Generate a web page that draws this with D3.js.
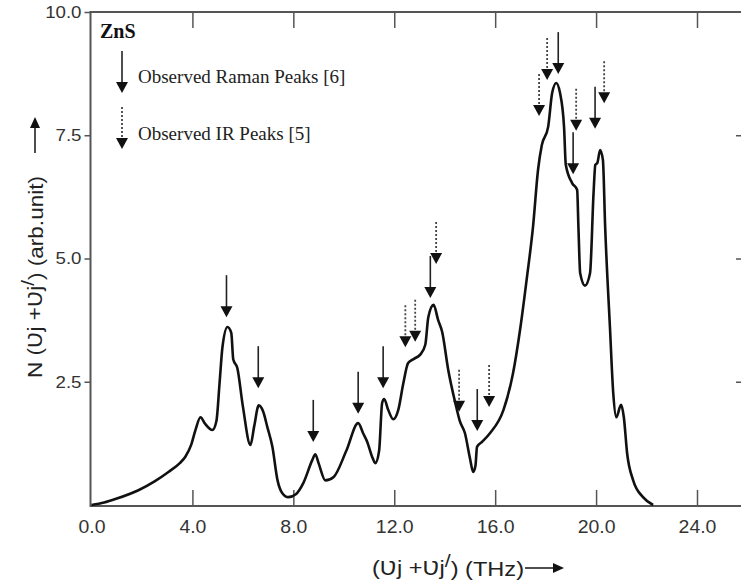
<!DOCTYPE html>
<html>
<head>
<meta charset="utf-8">
<script src="https://cdn.jsdelivr.net/npm/d3@7"></script>
<style>
  body { margin: 0; background: #fff; }
  svg { display: block; }
  .tick text { fill: #333; font-family: "Liberation Sans", Arial, sans-serif; }
</style>
</head>
<body>
<svg id="chart" width="741" height="588"></svg>
<script>
// phonon two-phonon density of states
const freq = [0, 0.5, 1.0, 1.86, 2.5, 3.05, 3.5, 3.72, 3.95, 4.12, 4.32, 4.5, 4.79, 4.95, 5.08, 5.19, 5.39, 5.54,
  5.62, 5.78, 6.0, 6.3, 6.45, 6.63, 6.8, 6.97, 7.17, 7.37, 7.55, 7.8, 8.1, 8.4, 8.75, 8.87, 9.0, 9.27, 9.6, 10.1,
  10.57, 10.77, 10.93, 11.13, 11.25, 11.4, 11.52, 11.6, 11.76, 11.96, 12.16, 12.36, 12.55, 12.8, 13.03, 13.23,
  13.35, 13.56, 13.74, 13.9, 14.14, 14.42, 14.6, 14.8, 15.0, 15.13, 15.22, 15.28, 15.48, 15.8, 16.33, 16.7, 17.0,
  17.26, 17.5, 17.7, 17.85, 18.1, 18.26, 18.42, 18.57, 18.73, 18.8, 19.05, 19.25, 19.3, 19.37, 19.56, 19.76, 19.9,
  19.97, 20.05, 20.16, 20.27, 20.36, 20.55, 20.68, 20.8, 20.99, 21.1, 21.23, 21.47, 21.86, 22.26];
const dos = [0, 0.05, 0.13, 0.3, 0.48, 0.67, 0.85, 0.98, 1.22, 1.52, 1.78, 1.65, 1.52, 1.7, 2.5, 3.2, 3.61, 3.49,
  2.95, 2.78, 2.0, 1.22, 1.6, 2.02, 1.9, 1.58, 1.18, 0.51, 0.25, 0.16, 0.22, 0.45, 0.91, 1.03, 0.85, 0.5, 0.57, 1.1,
  1.66, 1.45, 1.28, 0.97, 0.85, 1.1, 2.07, 2.15, 1.93, 1.74, 1.93, 2.47, 2.88, 2.97, 3.05, 3.25,
  3.81, 4.06, 3.75, 3.51, 2.74, 2.07, 1.7, 1.46, 0.95, 0.67, 0.8, 1.18, 1.28, 1.46, 1.93, 2.65, 3.6,
  4.62, 5.64, 6.8, 7.3, 7.67, 8.36, 8.56, 8.36, 7.67, 6.9, 6.53, 6.39, 5.64, 4.7, 4.45, 4.7, 6.33,
  6.9, 6.94, 7.2, 7.0, 5.64, 3.6, 2.27, 1.78, 2.03, 1.78, 1.05, 0.5, 0.16, 0];

// arrow tips (frequency, height)
const ramanX = [5.35, 6.61, 8.79, 10.57, 11.56, 13.43, 15.29, 18.5, 19.09, 19.96];
const ramanY = [3.81, 2.37, 1.28, 1.85, 2.37, 4.2, 1.5, 8.74, 6.71, 7.63];
const irX = [12.44, 12.83, 13.66, 14.57, 15.76, 17.74, 18.06, 19.21, 20.32];
const irY = [3.2, 3.31, 4.89, 1.89, 1.99, 7.89, 8.62, 7.59, 8.15];

const xTicks = [0, 4, 8, 12, 16, 20, 24];
const yTicks = [2.5, 5, 7.5, 10];
const legendItems = ["Observed Raman Peaks [6]", "Observed IR Peaks [5]"];

const svg = d3.select("#chart");
const plotLeft = 90.5, plotRight = 744, plotTop = 12, plotBottom = 506;

const x = d3.scaleLinear().domain([0, 24]).range([91.5, 697]);
const y = d3.scaleLinear().domain([0, 10]).range([505, 12]);

// frame
svg.append("rect")
  .attr("x", plotLeft).attr("y", plotTop)
  .attr("width", plotRight - plotLeft).attr("height", plotBottom - plotTop)
  .attr("fill", "none").attr("stroke", "#555").attr("stroke-width", 2);

// bottom axis, ticks inward
const xAxis = svg.append("g")
  .attr("transform", `translate(0,${plotBottom})`)
  .call(d3.axisBottom(x).tickValues(xTicks).tickFormat(d3.format(".1f"))
    .tickSizeInner(-16).tickSizeOuter(0).tickPadding(14));
xAxis.select(".domain").remove();
xAxis.selectAll(".tick line").attr("stroke", "#555").attr("stroke-width", 1.5);
xAxis.selectAll(".tick text").attr("font-size", 18).attr("transform", "scale(1.08,1)");
xAxis.selectAll(".tick").filter(d => d === 0).select("line").remove();

// top ticks
const xTop = svg.append("g")
  .attr("transform", `translate(0,${plotTop})`)
  .call(d3.axisTop(x).tickValues(xTicks.slice(1)).tickFormat("").tickSizeInner(-16).tickSizeOuter(0));
xTop.select(".domain").remove();
xTop.selectAll(".tick line").attr("stroke", "#555").attr("stroke-width", 1.5);

// left axis, ticks outward
const yAxis = svg.append("g")
  .attr("transform", `translate(${plotLeft},0)`)
  .call(d3.axisLeft(y).tickValues(yTicks).tickFormat(d3.format(".1f"))
    .tickSizeInner(6).tickSizeOuter(0).tickPadding(3));
yAxis.select(".domain").remove();
yAxis.selectAll(".tick line").attr("stroke", "#555").attr("stroke-width", 1.5);
yAxis.selectAll(".tick text").attr("font-size", 17).attr("transform", "translate(-9,0) scale(1.1,1) translate(9,0)");

// right ticks, inward
const yRight = svg.append("g")
  .attr("transform", `translate(${plotRight},0)`)
  .call(d3.axisRight(y).tickValues(yTicks.slice(0, 3)).tickFormat("").tickSizeInner(-8).tickSizeOuter(0));
yRight.select(".domain").remove();
yRight.selectAll(".tick line").attr("stroke", "#555").attr("stroke-width", 1.5);

// the curve
const line = d3.line()
  .x(d => x(d[0]))
  .y(d => y(d[1]))
  .curve(d3.curveMonotoneX);

svg.append("path")
  .datum(d3.zip(freq, dos))
  .attr("d", line)
  .attr("fill", "none")
  .attr("stroke", "#111")
  .attr("stroke-width", 2.6)
  .attr("stroke-linejoin", "round");

// down arrow drawn with its tip at (tx, ty)
const arrowLen = 42, headH = 11, headW = 6;
function downArrow(g, tx, ty, dotted) {
  g.append("line")
    .attr("x1", tx).attr("x2", tx)
    .attr("y1", ty - arrowLen).attr("y2", ty - headH + 1)
    .attr("stroke", dotted ? "#444" : "#222")
    .attr("stroke-width", dotted ? 1.8 : 1.6)
    .attr("stroke-dasharray", dotted ? "2,2" : null);
  g.append("path")
    .attr("d", `M${tx - headW},${ty - headH}L${tx + headW},${ty - headH}L${tx},${ty}Z`)
    .attr("fill", "#111");
}

const arrows = svg.append("g");
ramanX.forEach((f, i) => downArrow(arrows, x(f), y(ramanY[i]), false));
irX.forEach((f, i) => downArrow(arrows, x(f), y(irY[i]), true));

// legend
svg.append("text")
  .attr("x", 100).attr("y", 38)
  .attr("font-family", "'Liberation Serif', 'Times New Roman', serif")
  .attr("font-weight", "bold")
  .attr("font-size", 20)
  .attr("fill", "#111")
  .text("ZnS");

legendItems.forEach((label, i) => {
  const baseY = 83 + i * 57;
  downArrow(svg, 122, baseY + 10 - i * 1, i === 1);
  svg.append("text")
    .attr("x", 138).attr("y", baseY)
    .attr("font-family", "'Liberation Serif', 'Times New Roman', serif")
    .attr("font-size", 19)
    .attr("fill", "#222")
    .text(label);
});

// axis titles
const labelFont = "'Liberation Sans', Arial, 'DejaVu Sans', sans-serif";

function nuLabel(t, tail) {
  t.append("tspan").text("(Ʋ");
  t.append("tspan").text("j +Ʋ");
  t.append("tspan").text("j");
  t.append("tspan").attr("dy", "-0.45em").attr("font-size", "0.9em").text("/");
  t.append("tspan").attr("dy", "0.45em").text(tail);
}

const yTitle = svg.append("text")
  .attr("transform", "translate(42,277) rotate(-90) scale(1.13,1)")
  .attr("text-anchor", "middle")
  .attr("font-family", labelFont)
  .attr("font-size", 20)
  .attr("fill", "#222");
yTitle.append("tspan").text("N ");
nuLabel(yTitle, ") (arb.unit)");

// up arrow beside the y title
svg.append("line")
  .attr("x1", 35).attr("x2", 35).attr("y1", 153).attr("y2", 126)
  .attr("stroke", "#222").attr("stroke-width", 1.6);
svg.append("path")
  .attr("d", "M30,128L40,128L35,117Z")
  .attr("fill", "#111");

const titleStretch = 1.18;
const xTitle = svg.append("text")
  .attr("transform", `translate(372,575) scale(${titleStretch},1)`)
  .attr("font-family", labelFont)
  .attr("font-size", 20)
  .attr("fill", "#222");
nuLabel(xTitle, ") (THz)");

const xEnd = 372 + xTitle.node().getComputedTextLength() * titleStretch + 1;
svg.append("line")
  .attr("x1", xEnd).attr("x2", xEnd + 30).attr("y1", 568).attr("y2", 568)
  .attr("stroke", "#222").attr("stroke-width", 1.6);
svg.append("path")
  .attr("d", `M${xEnd + 28},563L${xEnd + 28},573L${xEnd + 39},568Z`)
  .attr("fill", "#111");
</script>
</body>
</html>
